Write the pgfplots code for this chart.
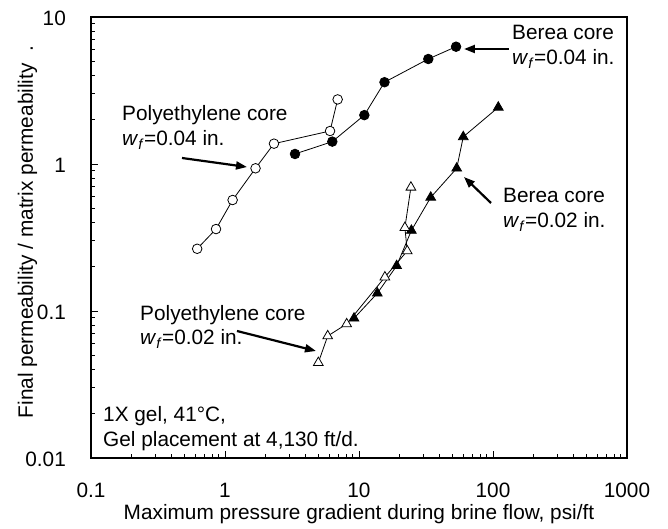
\documentclass[border=0pt]{standalone}
\usepackage{fontspec}
\setmainfont{Liberation Sans}
\usepackage{pgfplots}
\pgfplotsset{compat=1.18}
\usetikzlibrary{arrows.meta}

% Permeability ratio vs. pressure gradient, one series per core / fracture width
\pgfplotstableread{
x     y
0.62  0.265
0.857 0.361
1.14  0.569
1.69  0.935
2.32  1.375
6.08  1.677
6.93  2.75
}\polyfour
\pgfplotstableread{
x     y
3.33  1.17
6.32  1.42
10.96 2.15
15.5  3.6
32.9  5.18
53    6.28
}\bereafour
\pgfplotstableread{
x     y
9.18  0.0892
13.7  0.132
19.1  0.203
24.6  0.353
34.3  0.593
53.6  0.935
60    1.53
109.5 2.43
}\bereatwo
\pgfplotstableread{
x     y
4.97  0.0445
5.84  0.0676
8.09  0.0816
15.6  0.170
22.9  0.256
22.0  0.369
24.4  0.694
}\polytwo

\newcommand{\wf}{\textit{w}\textsubscript{\textit{f}}}

\begin{document}
\fontsize{20.8bp}{25bp}\selectfont
\begin{tikzpicture}
\path[use as bounding box] (-91bp,-71bp) rectangle (577bp,458bp);
\begin{axis}[
  at={(0,0)}, anchor=south west,
  scale only axis, width=536bp, height=441bp,
  xmode=log, ymode=log,
  xmin=0.1, xmax=1000, ymin=0.01, ymax=10,
  xtick={0.1,1,10,100,1000}, xticklabels={0.1,1,10,100,1000},
  ytick={0.01,0.1,1,10}, yticklabels={0.01,0.1,1,10},
  /pgf/number format/assume math mode=true,
  tick pos=left, tick align=inside,
  major tick length=7bp, minor tick length=4.5bp,
  tick style={black, line width=0.8bp},
  axis line style={line width=1.3bp},
  xticklabel style={anchor=base, yshift=-39bp},
  yticklabel style={anchor=base east, xshift=-18bp, yshift=-8.3bp},
  every axis plot/.append style={black, line width=0.8bp},
  clip=false,
]
\addplot[mark=*, mark size=4.8bp, mark options={fill=white, draw=black, line width=0.8bp}] table[x=x,y=y] {\polyfour};
\addplot[mark=*, mark size=4.8bp, mark options={fill=black, draw=black}] table[x=x,y=y] {\bereafour};
\addplot[mark=triangle*, mark size=5.6bp, mark options={fill=black, draw=black}] table[x=x,y=y] {\bereatwo};
\addplot[mark=triangle*, mark size=5.6bp, mark options={fill=white, draw=black, line width=0.8bp}] table[x=x,y=y] {\polytwo};
\end{axis}

\begin{scope}[x=1bp, y=-1bp, shift={(-91bp,458bp)}]
  % axis titles
  \node[rotate=90, anchor=base, inner sep=0] at (33,232)
    {Final permeability / matrix permeability\hspace{0.556em}.};
  \node[anchor=base, inner sep=0] at (359,520)
    {Maximum pressure gradient during brine flow, psi/ft};

  % series annotations
  \node[anchor=base west, inner sep=0] at (512,40) {Berea core};
  \node[anchor=base west, inner sep=0] at (512,65) {\wf=0.04 in.};
  \draw[line width=2.2bp, -{Triangle[length=11bp,width=8bp]}] (509,49) -- (464,49);

  \node[anchor=base west, inner sep=0] at (503,203) {Berea core};
  \node[anchor=base west, inner sep=0] at (503,228) {\wf=0.02 in.};
  \draw[line width=2.2bp, -{Triangle[length=11bp,width=8bp]}] (491,203) -- (464,177);

  \node[anchor=base west, inner sep=0] at (122,121) {Polyethylene core};
  \node[anchor=base west, inner sep=0] at (122,146) {\wf=0.04 in.};
  \draw[line width=2.2bp, -{Triangle[length=11bp,width=8bp]}] (182,158) -- (247,167);

  \node[anchor=base west, inner sep=0] at (140,321) {Polyethylene core};
  \node[anchor=base west, inner sep=0] at (140,345) {\wf=0.02 in.};
  \draw[line width=2.2bp, -{Triangle[length=11bp,width=8bp]}] (237,331) -- (316,351);

  % test conditions
  \node[anchor=base west, inner sep=0] at (103,422) {1X gel, 41°C,};
  \node[anchor=base west, inner sep=0] at (103,447) {Gel placement at 4,130 ft/d.};
\end{scope}
\end{tikzpicture}
\end{document}
